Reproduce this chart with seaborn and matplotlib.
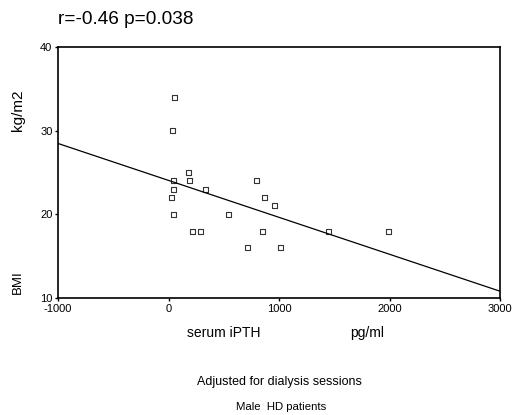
import matplotlib
matplotlib.use("Agg")
import matplotlib.pyplot as plt
import seaborn as sns
import numpy as np
import pandas as pd

# Data
ipth = [52, 36, 181, 48, 190, 799, 48, 335, 27, 872, 962, 48, 543, 220, 292, 851, 715, 1014, 1448, 1991]
bmi = [34, 30, 25, 24, 24, 24, 23, 23, 22, 22, 21, 20, 20, 18, 18, 18, 16, 16, 18, 18]
x_ticks = [-1000, 0, 1000, 2000, 3000]
y_ticks = [10, 20, 30, 40]
title_text = "r=-0.46 p=0.038"

df = pd.DataFrame({"iPTH": ipth, "BMI": bmi})

sns.set_style("ticks")
plt.rcParams["font.family"] = ["Liberation Sans", "DejaVu Sans"]
plt.rcParams["axes.unicode_minus"] = False
plt.rcParams["text.color"] = "black"

fig = plt.figure(figsize=(5.16, 4.15), dpi=100)
ax = fig.add_axes([58 / 516, 1 - 298 / 415, (500 - 58) / 516, (298 - 47) / 415])
ax.set_xlim(-1000, 3000)
ax.set_ylim(10, 40)

sns.regplot(data=df, x="iPTH", y="BMI", ax=ax, ci=None, truncate=False,
            marker="s",
            scatter_kws=dict(facecolors="none", edgecolors="black", s=13, linewidths=0.8),
            line_kws=dict(color="black", lw=0.9))

ax.set_xlim(-1000, 3000)
ax.set_ylim(10, 40)
ax.set_xticks(x_ticks)
ax.set_yticks(y_ticks)
ax.tick_params(labelsize=8, length=2, width=1, pad=2, colors="black")
for s in ax.spines.values():
    s.set_visible(True)
    s.set_color("black")
    s.set_linewidth(1.2)
ax.set_xlabel("")
ax.set_ylabel("")

fig.text(58 / 516, 1 - 20 / 415, title_text, fontsize=13.7, ha="left", va="center")
fig.text(18 / 516, 1 - 110 / 415, "kg/m2", fontsize=11, rotation=90, ha="center", va="center")
fig.text(18 / 516, 1 - 282 / 415, "BMI", fontsize=9.5, rotation=90, ha="center", va="center")
fig.text(224 / 516, 1 - 333 / 415, "serum iPTH", fontsize=10, ha="center", va="center")
fig.text(367 / 516, 1 - 333 / 415, "pg/ml", fontsize=10, ha="center", va="center")
fig.text(279 / 516, 1 - 382 / 415, "Adjusted for dialysis sessions", fontsize=9, ha="center", va="center")
fig.text(281 / 516, 1 - 407 / 415, "Male  HD patients", fontsize=8.2, ha="center", va="center")

fig.savefig("out.png", dpi=100)
